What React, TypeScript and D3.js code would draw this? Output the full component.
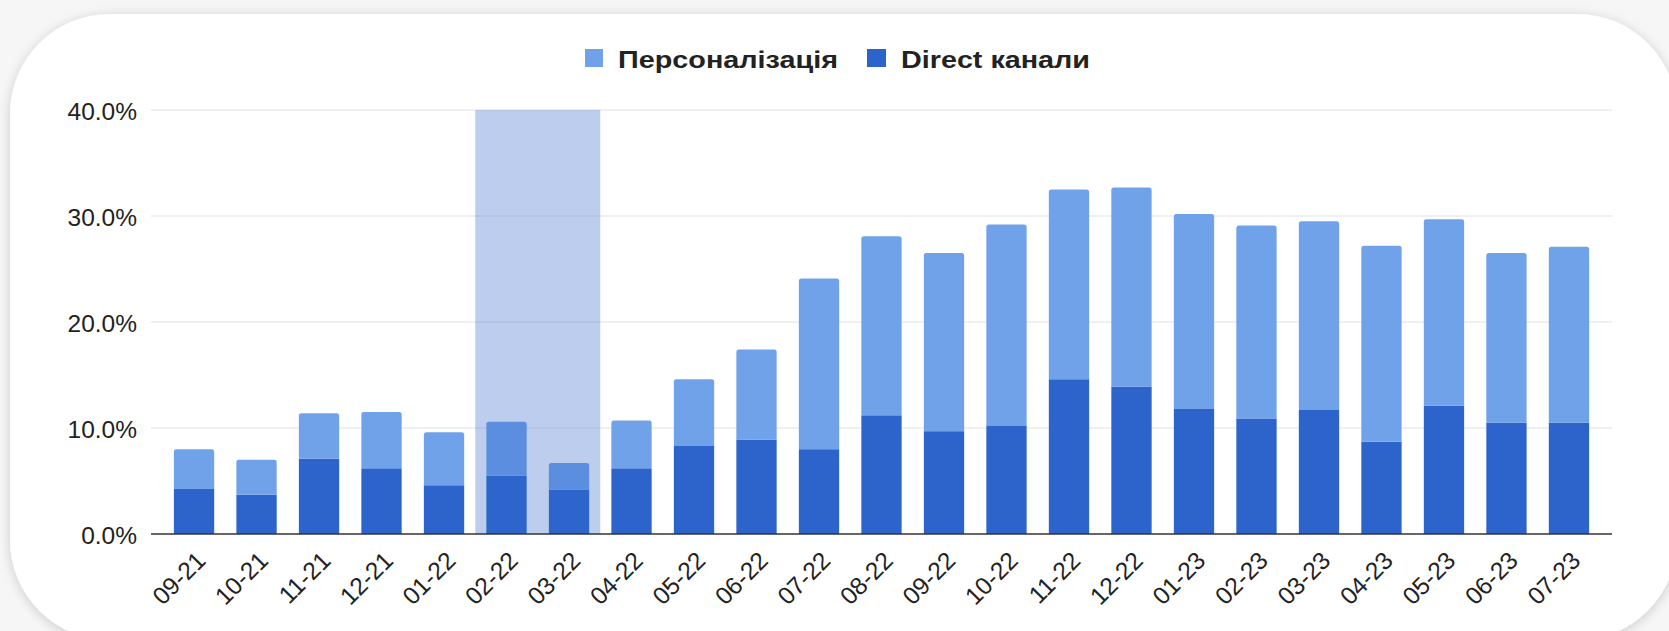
import * as d3 from 'd3';

const categories = [
  '09-21', '10-21', '11-21', '12-21', '01-22', '02-22', '03-22', '04-22',
  '05-22', '06-22', '07-22', '08-22', '09-22', '10-22', '11-22', '12-22',
  '01-23', '02-23', '03-23', '04-23', '05-23', '06-23', '07-23',
];
// Direct канали (bottom of the stack), percent
const directValues = [
  4.3, 3.7, 7.1, 6.2, 4.6, 5.5, 4.2, 6.2, 8.3, 8.9, 8.0, 11.2,
  9.7, 10.2, 14.6, 13.9, 11.8, 10.9, 11.7, 8.7, 12.1, 10.5, 10.5,
];
// Персоналізація (top of the stack), percent
const personalValues = [
  3.7, 3.3, 4.3, 5.3, 5.0, 5.1, 2.5, 4.5, 6.3, 8.5, 16.1, 16.9,
  16.8, 19.0, 17.9, 18.8, 18.4, 18.2, 17.8, 18.5, 17.6, 16.0, 16.6,
];
const yTicks = [0, 10, 20, 30, 40];
const highlighted = ['02-22', '03-22'];
const legendLabels = ['Персоналізація', 'Direct канали'];

const W = 1669;
const H = 631;
const plot = { left: 151, right: 1612, top: 110, bottom: 534 };
const DARK = '#2c64cc';
const LIGHT = '#70a2ea';
const FONT = '"Liberation Sans", Arial, sans-serif';

const rows = categories.map((c, i) => ({ cat: c, direct: directValues[i], personal: personalValues[i] }));
const stacked = d3.stack<any>().keys(['direct', 'personal'])(rows);

const x = d3.scaleBand().domain(categories).range([plot.left, plot.right]).paddingInner(0.355).paddingOuter(0.366);
const y = d3.scaleLinear().domain([0, 40]).range([plot.bottom, plot.top]);

const topRounded = (x0: number, y0: number, w: number, y1: number, r: number) => {
  const p = d3.path();
  p.moveTo(x0, y1);
  p.lineTo(x0, y0 + r);
  p.quadraticCurveTo(x0, y0, x0 + r, y0);
  p.lineTo(x0 + w - r, y0);
  p.quadraticCurveTo(x0 + w, y0, x0 + w, y0 + r);
  p.lineTo(x0 + w, y1);
  p.closePath();
  return p.toString();
};

export default function App() {
  const bw = x.bandwidth();
  const gap = x.step() - bw;
  const hlX0 = (x(highlighted[0]) as number) - gap / 2;
  const hlX1 = (x(highlighted[highlighted.length - 1]) as number) + bw + gap / 2;

  return (
    <div style={{ position: 'fixed', left: 0, top: 0, width: W, height: H, background: '#f6f6f6' }}>
      <svg width={W} height={H} style={{ display: 'block' }}>
        <defs>
          <filter id="shadow" x="-5%" y="-10%" width="110%" height="120%">
            <feGaussianBlur in="SourceAlpha" stdDeviation="6" />
            <feOffset dx="0" dy="2" result="b" />
            <feComponentTransfer>
              <feFuncA type="linear" slope="0.18" />
            </feComponentTransfer>
            <feMerge>
              <feMergeNode />
              <feMergeNode in="SourceGraphic" />
            </feMerge>
          </filter>
        </defs>
        <rect x={10} y={14} width={1667} height={626} rx={100} ry={100} fill="#fff" filter="url(#shadow)" />

        {/* legend */}
        <g fontFamily={FONT} fontWeight="bold" fontSize={24} fill="#222">
          <rect x={585} y={49} width={18} height={18} fill={LIGHT} />
          <text x={618} y={67.5} textLength={220} lengthAdjust="spacingAndGlyphs">{legendLabels[0]}</text>
          <rect x={867} y={49} width={19} height={18} fill={DARK} />
          <text x={901} y={67.5} textLength={189} lengthAdjust="spacingAndGlyphs">{legendLabels[1]}</text>
        </g>

        {/* grid + y labels */}
        {yTicks.map((t) => (
          <g key={t}>
            {t !== 0 && (
              <line x1={plot.left} x2={plot.right} y1={y(t)} y2={y(t)} stroke="#ebebeb" strokeWidth={1.5} />
            )}
            <text x={137} y={y(t) + 9.5} textAnchor="end" fontFamily={FONT} fontSize={24.5} fill="#222">
              {`${t.toFixed(1)}%`}
            </text>
          </g>
        ))}

        {/* bars */}
        {stacked.map((layer, li) =>
          layer.map((d, i) => {
            const cat = categories[i];
            const x0 = x(cat) as number;
            const y0 = y(d[1]);
            const y1 = y(d[0]);
            return li === stacked.length - 1 ? (
              <path key={`${li}-${cat}`} d={topRounded(x0, y0, bw, y1, 2.5)} fill={LIGHT} />
            ) : (
              <rect key={`${li}-${cat}`} x={x0} y={y0} width={bw} height={y1 - y0} fill={DARK} />
            );
          })
        )}

        {/* highlighted period */}
        <rect x={hlX0} y={y(40)} width={hlX1 - hlX0} height={y(0) - y(40)} fill="#3366cc" fillOpacity={0.33} />

        {/* baseline */}
        <line x1={plot.left} x2={plot.right} y1={y(0)} y2={y(0)} stroke="#333" strokeWidth={1.5} />

        {/* x labels */}
        {categories.map((c) => {
          const cx = (x(c) as number) + bw / 2 + 13;
          return (
            <text
              key={c}
              transform={`translate(${cx},562) rotate(-45)`}
              textAnchor="end"
              fontFamily={FONT}
              fontSize={24.5}
              fill="#222"
            >
              {c}
            </text>
          );
        })}
      </svg>
    </div>
  );
}
